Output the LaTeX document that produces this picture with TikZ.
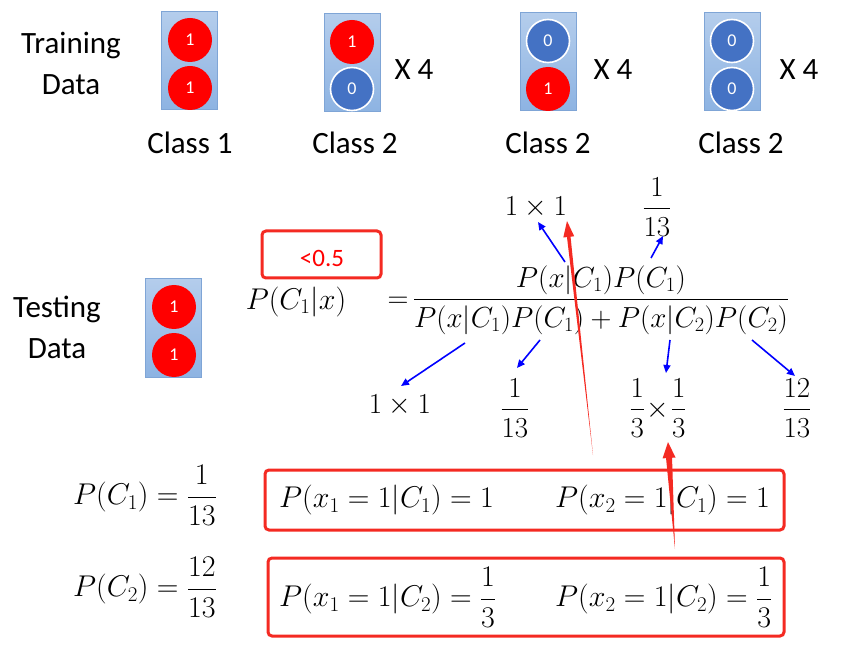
\documentclass[tikz,border=0pt]{standalone}
\usepackage{fix-cm}
\usepackage{amsmath}
\usepackage{fontspec}
\setmainfont{Carlito}
\usetikzlibrary{arrows.meta,calc}
\definecolor{boxtop}{HTML}{B4CDEC}
\definecolor{boxbot}{HTML}{8DB3E2}
\definecolor{boxborder}{HTML}{7FA5D6}
\definecolor{cblue}{HTML}{4472C4}
\definecolor{redb}{HTML}{F42A22}
\begin{document}
\begin{tikzpicture}[x=1pt,y=-1pt,
  databox/.style={draw=boxborder, line width=1pt, top color=boxtop, bottom color=boxbot, minimum width=56pt, minimum height=98pt, inner sep=0pt},
  redc/.style={circle, fill=red, minimum size=44pt, inner sep=0pt, text=white, font=\fontsize{18}{20}\selectfont},
  bluec/.style={circle, fill=cblue, draw=white, line width=1.6pt, minimum size=43pt, inner sep=0pt, text=white, font=\fontsize{18}{20}\selectfont},
  lab/.style={font=\fontsize{31}{41}\selectfont, align=center, inner sep=0pt},
  mth/.style={font=\fontsize{29}{35}\selectfont, inner sep=0pt},
  mthb/.style={font=\fontsize{30}{36}\selectfont, inner sep=0pt},
  barrow/.style={draw=blue, line width=1.6pt, -{Triangle[length=8pt,width=7pt]}},
  redbox/.style={draw=redb, line width=3pt, rounded corners=4pt, inner sep=0pt},
  wedge/.style={fill=redb, draw=none}]
\useasboundingbox (0,0) rectangle (844,647);

% Training data
\node[lab] (train) at (71,63) {Training\\Data};
\node[databox] (b1) at (189.5,61) {};
\node[redc] (b1t) at (190,40) {1};
\node[redc] (b1b) at (190,88) {1};
\node[databox] (b2) at (352.5,63) {};
\node[redc] (b2t) at (352,42) {1};
\node[bluec] (b2b) at (352,89) {0};
\node[lab] (x2) at (414,70) {X 4};
\node[databox] (b3) at (548,62) {};
\node[bluec] (b3t) at (548,41) {0};
\node[redc] (b3b) at (548,89) {1};
\node[lab] (x3) at (613,70) {X 4};
\node[databox] (b4) at (732,62) {};
\node[bluec] (b4t) at (732,41) {0};
\node[bluec] (b4b) at (732,89) {0};
\node[lab] (x4) at (799,70) {X 4};
\node[lab] (c1) at (190,143) {Class 1};
\node[lab] (c2) at (355,143) {Class 2};
\node[lab] (c3) at (548,143) {Class 2};
\node[lab] (c4) at (741,143) {Class 2};

% Testing data
\node[lab] (test) at (57,327) {Testing\\Data};
\node[databox] (tb) at (173.5,328) {};
\node[redc] (tbt) at (174,307) {1};
\node[redc] (tbb) at (174,355) {1};

% Formula
\node[redbox, minimum width=119pt, minimum height=47pt] (lt) at (321.5,254.5) {};
\node[font=\fontsize{25}{28}\selectfont, text=red, inner sep=0pt] (lttxt) at (322,258) {<0.5};
\node[mthb] (lhs) at (296,302) {$P(C_1|x)$};
\node[mth] (eqs) at (398,302) {$=$};
\node[mth] (frac) at (601,300) {$\dfrac{P(x|C_1)P(C_1)}{P(x|C_1)P(C_1)+P(x|C_2)P(C_2)}$};

\node[mth] (t1) at (536,207) {$1\times 1$};
\node[mth] (t2) at (657,207) {$\dfrac{1}{13}$};
\node[mth] (d1) at (400,405) {$1\times 1$};
\node[mth] (d2) at (515,408) {$\dfrac{1}{13}$};
\node[mth] (d3) at (658,408) {$\dfrac{1}{3}\!\times\!\dfrac{1}{3}$};
\node[mth] (d4) at (797,408) {$\dfrac{12}{13}$};

\coordinate (a1s) at (565,262);
\coordinate (a2s) at (651,258);
\coordinate (a3s) at (465,343);
\coordinate (a4s) at (540,340);
\coordinate (a5s) at (670,340);
\coordinate (a6s) at (752,340);
\draw[barrow] (a1s) -- (538,222) coordinate (a1e);
\draw[barrow] (a2s) -- (663,236) coordinate (a2e);
\draw[barrow] (a3s) -- (401,386) coordinate (a3e);
\draw[barrow] (a4s) -- (517,368) coordinate (a4e);
\draw[barrow] (a5s) -- (666,373) coordinate (a5e);
\draw[barrow] (a6s) -- (795,376) coordinate (a6e);

% Bottom
\node[mthb] (pc1) at (145,495) {$P(C_1)=\dfrac{1}{13}$};
\node[mthb] (pc2) at (145,587) {$P(C_2)=\dfrac{12}{13}$};
\node[redbox, minimum width=519pt, minimum height=60pt] (rb1) at (524.5,500) {};
\node[redbox, minimum width=516pt, minimum height=78pt] (rb2) at (526,597) {};
\node[mthb, anchor=west] (e11) at (279,500) {$P(x_1=1|C_1)=1$};
\node[mthb, anchor=west] (e12) at (555,500) {$P(x_2=1|C_1)=1$};
\node[mthb, anchor=west] (e21) at (279,597) {$P(x_1=1|C_2)=\dfrac{1}{3}$};
\node[mthb, anchor=west] (e22) at (555,597) {$P(x_2=1|C_2)=\dfrac{1}{3}$};

% Red arrows
\coordinate (r1s) at (593,455);
\coordinate (r1t) at (567,221);
\coordinate (r1h) at ($(r1t)!16pt!(r1s)$);
\fill[wedge] (r1s) -- ($(r1h)!1.8pt!90:(r1t)$) -- ($(r1h)!5.5pt!90:(r1t)$) -- (r1t) -- ($(r1h)!5.5pt!-90:(r1t)$) -- ($(r1h)!1.8pt!-90:(r1t)$) -- cycle;
\coordinate (r2s) at (675,549);
\coordinate (r2t) at (668,442);
\coordinate (r2h) at ($(r2t)!16pt!(r2s)$);
\fill[wedge] (r2s) -- ($(r2h)!3pt!90:(r2t)$) -- ($(r2h)!6.5pt!90:(r2t)$) -- (r2t) -- ($(r2h)!6.5pt!-90:(r2t)$) -- ($(r2h)!3pt!-90:(r2t)$) -- cycle;
\end{tikzpicture}
\end{document}
